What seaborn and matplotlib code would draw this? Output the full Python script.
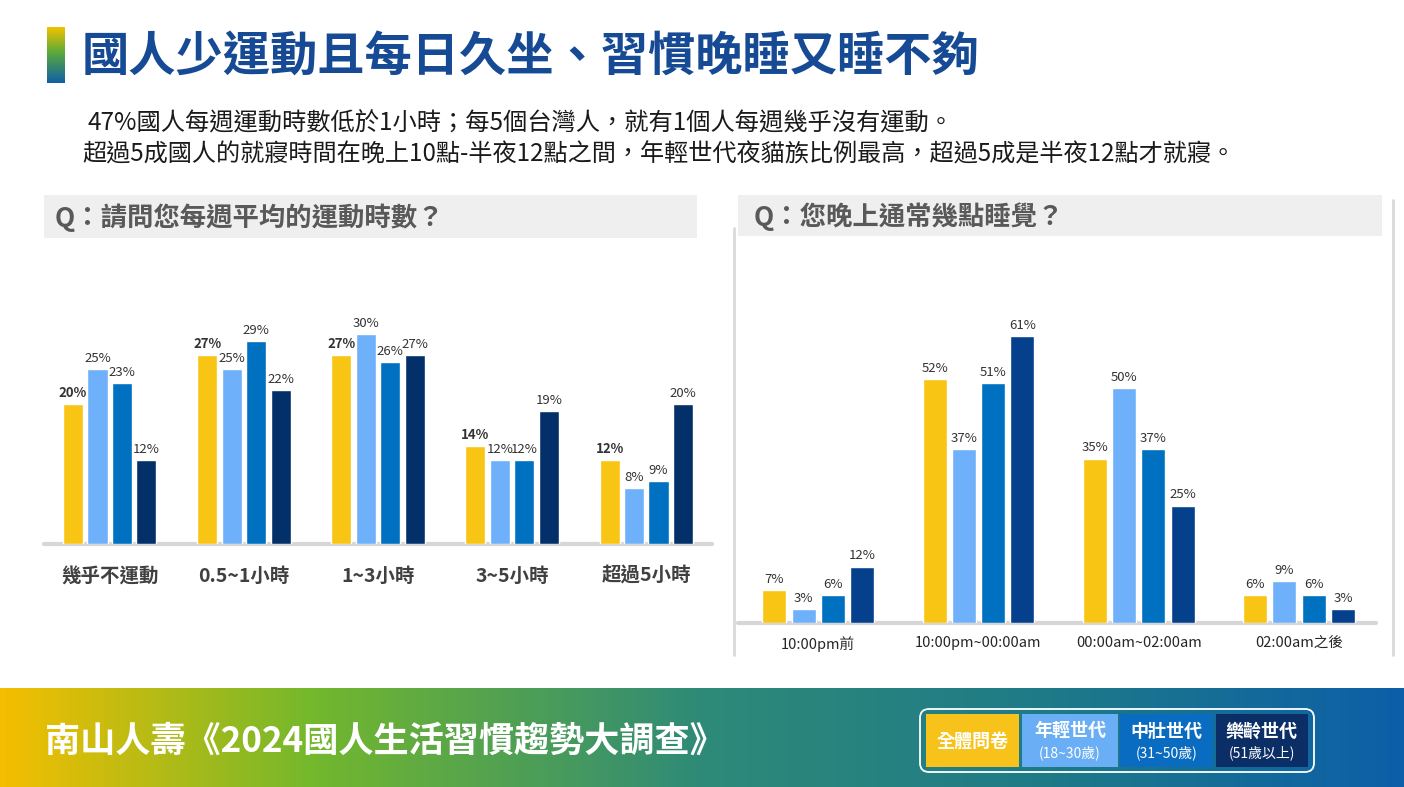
import numpy as np
import pandas as pd
import matplotlib
matplotlib.use("Agg")
import matplotlib.pyplot as plt
import seaborn as sns
from matplotlib.colors import LinearSegmentedColormap
from matplotlib.patches import Rectangle, FancyBboxPatch

sns.set_style("white")
plt.rcParams['font.family'] = ['Noto Sans CJK TC', 'DejaVu Sans']

# ---- data ----
groups = ['全體問卷', '年輕世代', '中壯世代', '樂齡世代']
group_ages = ['', '(18~30歲)', '(31~50歲)', '(51歲以上)']

exercise_cats = ['幾乎不運動', '0.5~1小時', '1~3小時', '3~5小時', '超過5小時']
exercise_all = [20, 27, 27, 14, 12]
exercise_young = [25, 25, 30, 12, 8]
exercise_mid = [23, 29, 26, 12, 9]
exercise_senior = [12, 22, 27, 19, 20]

sleep_cats = ['10:00pm前', '10:00pm~00:00am', '00:00am~02:00am', '02:00am之後']
sleep_all = [7, 52, 35, 6]
sleep_young = [3, 37, 50, 9]
sleep_mid = [6, 51, 37, 6]
sleep_senior = [12, 61, 25, 3]

title = '國人少運動且每日久坐、習慣晚睡又睡不夠'
sub1 = '47%國人每週運動時數低於1小時；每5個台灣人，就有1個人每週幾乎沒有運動。'
sub2 = '超過5成國人的就寢時間在晚上10點-半夜12點之間，年輕世代夜貓族比例最高，超過5成是半夜12點才就寢。'
q_left = 'Q：請問您每週平均的運動時數？'
q_right = 'Q：您晚上通常幾點睡覺？'
banner = '南山人壽《2024國人生活習慣趨勢大調查》'

yellow, light, mid = '#F9C514', '#6EB0F9', '#0070C0'
pal_left = [yellow, light, mid, '#04306A']
pal_right = [yellow, light, mid, '#05408C']
legend_cols = ['#F7C31A', '#6AAEF5', '#0A6CC0', '#0B2E66']


def long_df(cats, series):
    rows = []
    for g, vals in zip(groups, series):
        for c, v in zip(cats, vals):
            rows.append({'cat': c, 'group': g, 'pct': v})
    return pd.DataFrame(rows)


df_ex = long_df(exercise_cats, [exercise_all, exercise_young, exercise_mid, exercise_senior])
df_sl = long_df(sleep_cats, [sleep_all, sleep_young, sleep_mid, sleep_senior])

W, H = 1404, 787
fig = plt.figure(figsize=(W / 100, H / 100), dpi=100)

# ---- background overlay in pixel coords ----
bg = fig.add_axes([0, 0, 1, 1], zorder=0)
bg.set_xlim(0, W)
bg.set_ylim(H, 0)
bg.axis('off')

# bottom banner gradient
ban_cmap = LinearSegmentedColormap.from_list(
    'ban', [(0, '#F5BE00'), (0.22, '#74B82C'), (0.5, '#2E8A78'), (0.75, '#1E7A88'), (1, '#0C5FA8')])
grad = np.linspace(0, 1, 256).reshape(1, -1)
bg.imshow(grad, cmap=ban_cmap, extent=[0, W, H, 688], aspect='auto')

# title accent bar
bar_cmap = LinearSegmentedColormap.from_list('tb', [(0, '#F2C200'), (0.45, '#5BAA3A'), (1, '#1060A8')])
bg.imshow(np.linspace(0, 1, 128).reshape(-1, 1), cmap=bar_cmap, extent=[47, 65, 83, 27], aspect='auto')

bg.text(82, 57, title, fontsize=34, fontweight='bold', color='#164A94', va='center', ha='left')
bg.text(88, 123, sub1, fontsize=17.5, color='#1a1a1a', va='center', ha='left')
bg.text(82, 155, sub2, fontsize=17.4, color='#1a1a1a', va='center', ha='left')

# question boxes
bg.add_patch(Rectangle((44, 195), 653, 43, color='#EFEFEF', lw=0))
bg.add_patch(Rectangle((738, 195), 644, 41, color='#EFEFEF', lw=0))
bg.text(55, 218, q_left, fontsize=19, fontweight='bold', color='#595959', va='center')
bg.text(754, 217, q_right, fontsize=19, fontweight='bold', color='#595959', va='center')

# card borders on the right panel
bg.plot([734, 734], [228, 655], color='#D9D9D9', lw=2)
bg.plot([1393, 1393], [200, 655], color='#D9D9D9', lw=2)

# banner text
bg.text(45, 741, banner, fontsize=25.3, fontweight='bold', color='white', va='center')

# legend box
bg.add_patch(FancyBboxPatch((920, 709), 394, 63, boxstyle='round,pad=0,rounding_size=9',
                            fc='none', ec='white', lw=1.3))
cells = [(926, 93), (1022, 96), (1120, 93), (1216, 92)]
for (x0, w), g, age, col in zip(cells, groups, group_ages, legend_cols):
    bg.add_patch(Rectangle((x0, 714), w, 53, color=col, lw=0))
    if age:
        bg.text(x0 + w / 2, 731, g, fontsize=13, fontweight='bold', color='white', ha='center', va='center')
        bg.text(x0 + w / 2, 753, age, fontsize=10, color='white', ha='center', va='center')
    else:
        bg.text(x0 + w / 2, 741, g, fontsize=13, fontweight='bold', color='white', ha='center', va='center')


def px_axes(x0, x1, ytop, ybot):
    return fig.add_axes([x0 / W, (H - ybot) / H, (x1 - x0) / W, (ybot - ytop) / H], zorder=2)


def draw(ax, df, pal, ymax, xlim, label_size, tick_size, tick_bold, pad, bold_first):
    sns.barplot(data=df, x='cat', y='pct', hue='group', palette=pal, width=0.73, gap=0.18,
                saturation=1, legend=False, ax=ax)
    ax.set_ylim(0, ymax)
    ax.set_xlim(*xlim)
    ax.patch.set_alpha(0)
    for s in ax.spines.values():
        s.set_visible(False)
    ax.axhline(0, color='#D6D6D6', lw=3, clip_on=False, zorder=0)
    ax.set_yticks([])
    ax.set_xlabel('')
    ax.set_ylabel('')
    ax.tick_params(axis='x', length=0, pad=pad, labelsize=tick_size, labelcolor='#262626')
    if tick_bold:
        for t in ax.get_xticklabels():
            t.set_fontweight('bold')
            t.set_color('#404040')
    for i, cont in enumerate(ax.containers):
        ax.bar_label(cont, fmt='{:.0f}%', padding=3, fontsize=label_size, color='#333333',
                     fontweight='bold' if (bold_first and i == 0) else 'normal')


ax1 = px_axes(44, 712, 250, 544)
draw(ax1, df_ex, pal_left, 42, (-0.49, 4.49), 9.5, 14, True, 16.5, True)

ax2 = px_axes(738, 1376, 250, 623)
draw(ax2, df_sl, pal_right, 79.4, (-0.5, 3.48), 9.5, 10.5, False, 9.5, False)

fig.savefig('out.png', dpi=100)
